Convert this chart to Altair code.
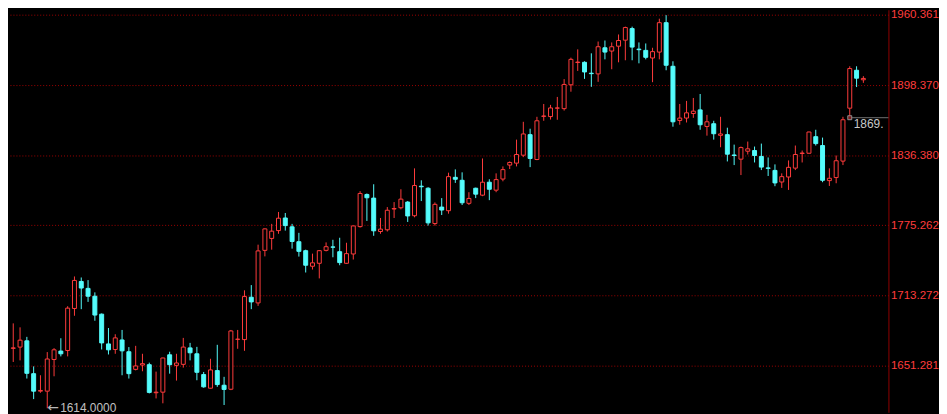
import altair as alt
import pandas as pd

opens = [1666.8, 1667.9, 1673.4, 1644.5, 1629.1, 1629.1, 1657.0, 1664.4, 1664.9, 1701.9,
         1725.7, 1719.6, 1712.7, 1696.9, 1670.7, 1665.8, 1674.2, 1663.8, 1648.3, 1652.1,
         1652.4, 1627.7, 1628.2, 1661.1, 1651.8, 1652.7, 1667.2, 1662.0, 1643.7, 1631.7,
         1647.2, 1634.3, 1630.8, 1674.7, 1674.5, 1711.8, 1706.8, 1753.1, 1763.6, 1770.5,
         1781.6, 1773.8, 1760.7, 1752.8, 1739.1, 1741.7, 1753.1, 1756.1, 1751.9, 1741.7,
         1749.9, 1774.0, 1802.3, 1799.1, 1769.7, 1771.2, 1789.5, 1790.6, 1795.6, 1783.6,
         1809.6, 1807.8, 1776.7, 1791.2, 1788.0, 1817.4, 1814.8, 1794.5, 1807.8, 1801.7,
         1813.1, 1806.1, 1815.9, 1828.2, 1829.9, 1836.9, 1855.0, 1833.1, 1871.1, 1870.9,
         1878.3, 1877.9, 1898.9, 1918.5, 1918.7, 1909.1, 1908.5, 1931.5, 1928.6, 1932.9,
         1938.2, 1948.4, 1930.3, 1929.2, 1922.5, 1927.7, 1953.6, 1915.2, 1867.5, 1869.6,
         1873.6, 1876.8, 1862.2, 1864.6, 1854.4, 1855.0, 1837.1, 1833.4, 1840.4, 1841.0,
         1835.8, 1825.7, 1823.5, 1813.3, 1817.7, 1825.5, 1838.4, 1838.6, 1853.2, 1845.4,
         1814.5, 1817.2, 1831.7, 1878.3, 1911.7, 1903.3]

highs = [1688.8, 1685.3, 1676.9, 1650.9, 1643.1, 1663.5, 1667.0, 1675.7, 1703.9, 1730.1,
         1729.2, 1726.9, 1716.1, 1697.5, 1684.7, 1679.2, 1683.0, 1667.9, 1669.0, 1662.0,
         1654.2, 1646.3, 1658.5, 1663.8, 1662.0, 1676.0, 1671.6, 1668.1, 1646.0, 1657.6,
         1669.9, 1641.7, 1683.0, 1683.0, 1717.9, 1722.5, 1758.1, 1772.3, 1776.4, 1786.9,
         1786.0, 1776.4, 1768.5, 1753.7, 1750.2, 1753.4, 1760.1, 1762.4, 1764.2, 1759.8,
         1774.8, 1805.2, 1803.2, 1811.3, 1781.6, 1791.2, 1795.6, 1806.9, 1796.5, 1825.3,
         1814.8, 1808.7, 1795.3, 1799.1, 1821.5, 1824.4, 1821.8, 1804.3, 1808.3, 1834.0,
         1815.7, 1820.9, 1827.0, 1831.4, 1850.6, 1866.3, 1860.2, 1870.7, 1882.0, 1881.2,
         1888.2, 1903.9, 1922.8, 1930.1, 1919.6, 1926.6, 1937.0, 1937.9, 1936.2, 1943.2,
         1950.1, 1950.1, 1936.2, 1935.3, 1931.5, 1957.1, 1960.2, 1919.6, 1882.0, 1884.7,
         1887.3, 1890.8, 1872.4, 1867.2, 1870.7, 1861.1, 1846.2, 1844.5, 1848.9, 1844.5,
         1847.1, 1834.9, 1828.8, 1820.9, 1832.3, 1845.4, 1841.0, 1857.6, 1859.3, 1852.4,
         1825.3, 1836.6, 1870.7, 1915.2, 1915.2, 1906.5]

lows = [1654.8, 1656.2, 1640.2, 1622.1, 1627.7, 1614.0, 1642.2, 1659.7, 1659.7, 1695.5,
        1701.3, 1707.7, 1691.1, 1665.8, 1661.4, 1662.0, 1643.1, 1640.2, 1647.4, 1646.6,
        1627.1, 1622.7, 1618.4, 1644.5, 1638.4, 1649.8, 1656.2, 1638.7, 1632.1, 1631.4,
        1632.9, 1616.9, 1630.0, 1666.4, 1664.6, 1701.3, 1704.2, 1747.8, 1753.7, 1767.7,
        1770.5, 1754.6, 1747.6, 1733.6, 1736.2, 1728.4, 1752.2, 1747.0, 1740.0, 1741.2,
        1745.0, 1773.2, 1779.0, 1765.9, 1767.7, 1769.7, 1781.6, 1789.2, 1778.1, 1782.2,
        1796.5, 1774.9, 1774.9, 1784.2, 1785.4, 1812.5, 1793.0, 1793.0, 1799.1, 1800.8,
        1797.3, 1804.3, 1813.9, 1824.7, 1827.0, 1835.2, 1826.4, 1832.5, 1867.2, 1868.3,
        1868.1, 1876.2, 1892.8, 1911.1, 1904.1, 1897.1, 1901.5, 1921.3, 1912.6, 1918.7,
        1920.5, 1920.5, 1917.8, 1921.3, 1901.2, 1921.3, 1911.7, 1862.0, 1863.7, 1865.7,
        1869.8, 1859.3, 1854.1, 1850.6, 1843.9, 1831.4, 1828.2, 1819.4, 1837.5, 1830.5,
        1823.8, 1818.6, 1809.6, 1808.1, 1806.3, 1823.8, 1830.5, 1838.4, 1845.4, 1813.1,
        1809.8, 1812.2, 1828.2, 1869.9, 1896.9, 1900.6]

closes = [1667.2, 1674.0, 1644.8, 1629.1, 1629.7, 1657.4, 1665.5, 1662.0, 1702.2, 1726.6,
          1719.9, 1712.7, 1696.1, 1671.6, 1665.5, 1676.0, 1664.6, 1644.5, 1651.3, 1653.3,
          1628.0, 1628.2, 1658.3, 1652.4, 1653.9, 1667.9, 1662.9, 1645.7, 1632.9, 1647.8,
          1634.9, 1630.6, 1682.1, 1674.9, 1712.4, 1707.7, 1752.6, 1772.0, 1770.0, 1781.4,
          1774.9, 1760.9, 1752.2, 1740.0, 1742.1, 1752.8, 1756.3, 1755.9, 1742.3, 1750.2,
          1774.6, 1803.2, 1799.4, 1770.3, 1771.8, 1788.4, 1789.9, 1798.2, 1783.4, 1810.2,
          1809.1, 1777.3, 1793.6, 1788.6, 1818.0, 1815.7, 1795.0, 1798.8, 1802.6, 1813.1,
          1806.9, 1815.4, 1824.2, 1830.5, 1837.5, 1855.6, 1834.0, 1867.2, 1871.4, 1878.5,
          1878.5, 1899.2, 1921.3, 1918.9, 1910.2, 1908.7, 1932.4, 1927.7, 1932.4, 1937.9,
          1949.3, 1932.1, 1929.8, 1923.1, 1928.1, 1953.6, 1916.1, 1866.3, 1869.6, 1874.2,
          1875.7, 1863.7, 1866.3, 1855.8, 1855.6, 1837.8, 1836.6, 1843.6, 1842.5, 1836.6,
          1826.4, 1825.3, 1812.5, 1818.0, 1826.2, 1837.5, 1838.8, 1857.3, 1847.1, 1814.8,
          1816.6, 1832.0, 1868.1, 1913.2, 1904.7, 1904.5]

y_ticks = [1651.281, 1713.272, 1775.262, 1836.380, 1898.370, 1960.361]
marker_index = [123]
marker_label = ["1869."]

RED = "#ff3c3c"
CYAN = "#54fcfc"

df = pd.DataFrame({"k": list(range(len(opens))), "open": opens, "high": highs,
                   "low": lows, "close": closes})

lo_idx = int(df["low"].idxmin())
low_ann = pd.DataFrame({"k": [lo_idx], "v": [df["low"][lo_idx]],
                        "arrow": ["\u2190"],
                        "t": [f"{df['low'][lo_idx]:.4f}"]})
mk = marker_index[0]
mark_ann = pd.DataFrame({"k": [mk], "k2": [len(opens) + 3], "v": [df["low"][mk]],
                         "t": marker_label})

xs = alt.Scale(domain=[-0.043, 127.957], nice=False, zero=False)
ys = alt.Scale(domain=[1610.5, 1965.0], nice=False, zero=False)

yaxis = alt.Axis(orient="right", values=y_ticks, format=".3f", grid=True,
                 gridColor="#a00000", gridDash=[1, 2], gridWidth=1,
                 domain=True, domainColor="#900000", domainWidth=1,
                 ticks=False, labelPadding=2, labelColor=RED,
                 labelFont="Liberation Sans", labelFontSize=11.6,
                 labelFlush=False, labelOverlap=False, labelBaseline="middle",
                 title=None)

up = "datum.close >= datum.open"

base = alt.Chart(df)

wicks = base.mark_rule(strokeWidth=1, clip=True).encode(
    x=alt.X("k:Q", scale=xs, axis=None),
    y=alt.Y("low:Q", scale=ys, axis=yaxis),
    y2="high:Q",
    color=alt.condition(up, alt.value(RED), alt.value(CYAN)),
)

bodies = base.mark_bar(size=4, strokeWidth=1, clip=True).encode(
    x=alt.X("k:Q", scale=xs, axis=None),
    y=alt.Y("open:Q", scale=ys),
    y2="close:Q",
    fill=alt.condition(up, alt.value("#000000"), alt.value(CYAN)),
    stroke=alt.condition(up, alt.value(RED), alt.value(CYAN)),
)

low_arrow = alt.Chart(low_ann).mark_text(
    align="left", baseline="middle", dx=0, dy=0, font="DejaVu Sans",
    fontSize=14, color="#b8b8b8").encode(
    x=alt.X("k:Q", scale=xs, axis=None),
    y=alt.Y("v:Q", scale=ys),
    text="arrow:N",
)

low_text = alt.Chart(low_ann).mark_text(
    align="left", baseline="middle", dx=13, dy=0, font="Liberation Sans",
    fontSize=12, color="#c0c0c0").encode(
    x=alt.X("k:Q", scale=xs, axis=None),
    y=alt.Y("v:Q", scale=ys),
    text="t:N",
)

mark_line = alt.Chart(mark_ann).mark_rule(color="#707070", strokeWidth=1, clip=True).encode(
    x=alt.X("k:Q", scale=xs, axis=None),
    x2="k2:Q",
    y=alt.Y("v:Q", scale=ys),
)

mark_sq = alt.Chart(mark_ann).mark_square(size=16, filled=True, fill="#7a1a1a",
                                          stroke="#909090", strokeWidth=1, opacity=1).encode(
    x=alt.X("k:Q", scale=xs, axis=None),
    y=alt.Y("v:Q", scale=ys),
)

mark_text = alt.Chart(mark_ann).mark_text(
    align="left", baseline="middle", dx=4, dy=6, font="Liberation Sans",
    fontSize=12, color="#c8c8c8").encode(
    x=alt.X("k:Q", scale=xs, axis=None),
    y=alt.Y("v:Q", scale=ys),
    text="t:N",
)

chart = alt.layer(wicks, bodies, low_arrow, low_text, mark_line, mark_sq, mark_text).properties(
    width=888, height=406,
    autosize=alt.AutoSizeParams(type="none"),
    padding={"left": 0, "top": 0, "right": 51, "bottom": 0},
    background="#000000",
).configure_view(strokeOpacity=0)

chart.save("out.html", embed_options={"renderer": "svg", "actions": False})
